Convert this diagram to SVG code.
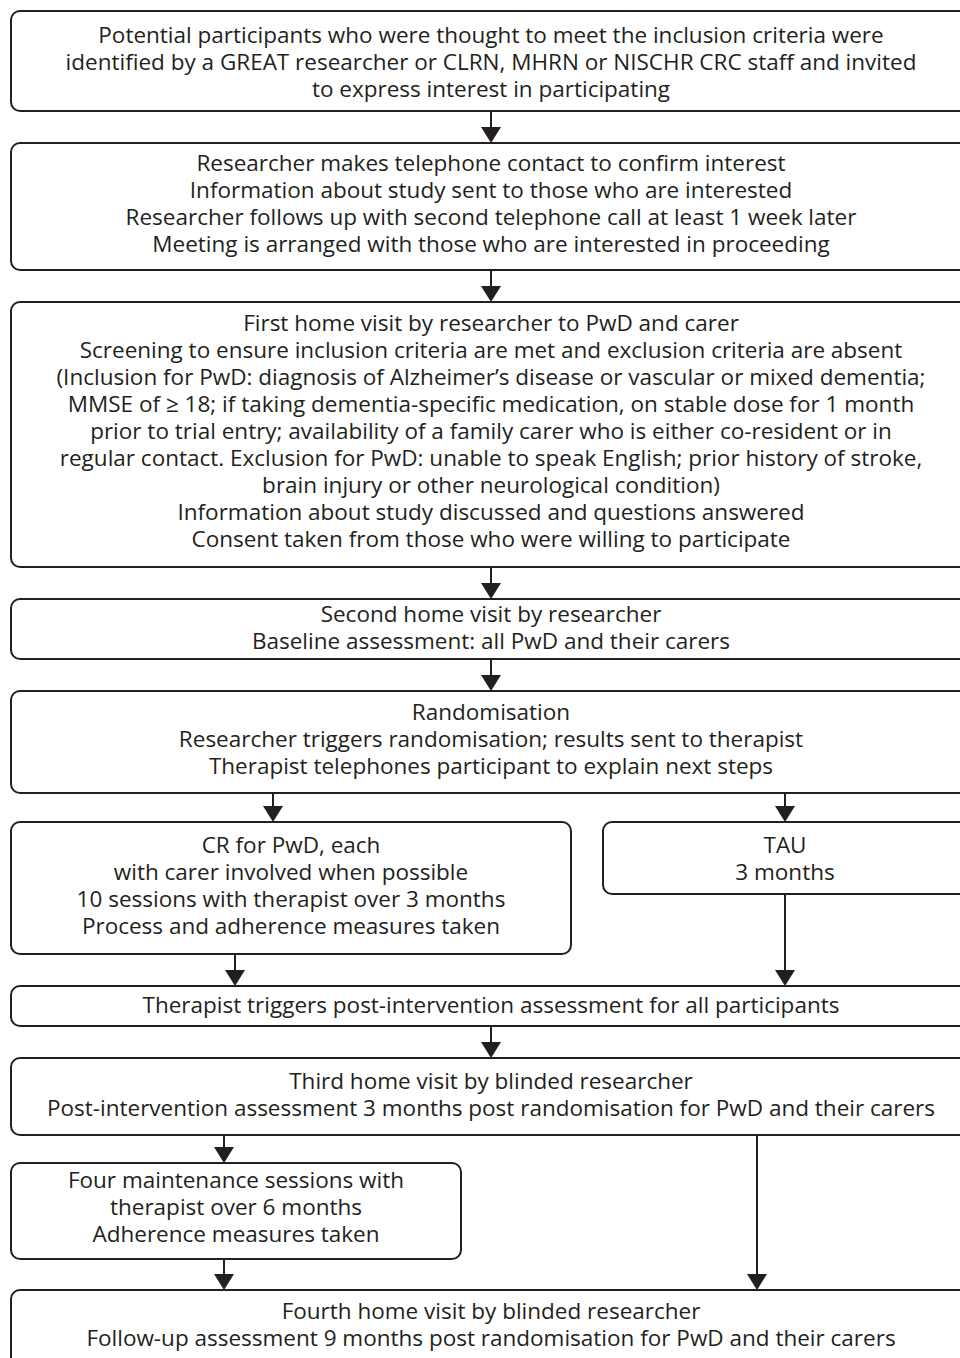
<svg xmlns="http://www.w3.org/2000/svg" width="960" height="1358" viewBox="0 0 960 1358">
<defs>
<style>
.box{fill:#fff;stroke:#231f20;stroke-width:2}
.t{font-family:"Open Sans","Noto Sans",sans-serif;font-size:22.5px;fill:#231f20;text-anchor:middle}
.c{stroke:#231f20;stroke-width:2;fill:none}
.ah{fill:#231f20}
</style>
</defs>
<rect width="960" height="1358" fill="#fff"/>
<g id="connectors">
<line class="c" x1="491" y1="111" x2="491" y2="127"/><path class="ah" d="M481,127 L501,127 L491,143 Z"/>
<line class="c" x1="491" y1="270" x2="491" y2="286"/><path class="ah" d="M481,286 L501,286 L491,302 Z"/>
<line class="c" x1="491" y1="567" x2="491" y2="583"/><path class="ah" d="M481,583 L501,583 L491,599 Z"/>
<line class="c" x1="491" y1="659" x2="491" y2="675"/><path class="ah" d="M481,675 L501,675 L491,691 Z"/>
<line class="c" x1="273" y1="793" x2="273" y2="806"/><path class="ah" d="M263,806 L283,806 L273,822 Z"/>
<line class="c" x1="785" y1="793" x2="785" y2="806"/><path class="ah" d="M775,806 L795,806 L785,822 Z"/>
<line class="c" x1="235" y1="954" x2="235" y2="970"/><path class="ah" d="M225,970 L245,970 L235,986 Z"/>
<line class="c" x1="785" y1="894" x2="785" y2="970"/><path class="ah" d="M775,970 L795,970 L785,986 Z"/>
<line class="c" x1="491" y1="1026" x2="491" y2="1042"/><path class="ah" d="M481,1042 L501,1042 L491,1058 Z"/>
<line class="c" x1="224" y1="1135" x2="224" y2="1147"/><path class="ah" d="M214,1147 L234,1147 L224,1163 Z"/>
<line class="c" x1="224" y1="1259" x2="224" y2="1274"/><path class="ah" d="M214,1274 L234,1274 L224,1290 Z"/>
<line class="c" x1="757" y1="1135" x2="757" y2="1274"/><path class="ah" d="M747,1274 L767,1274 L757,1290 Z"/>
</g>
<g id="n1"><rect class="box" x="11" y="11" width="960" height="100" rx="9"/>
<text class="t" x="491" y="43">Potential participants who were thought to meet the inclusion criteria were</text>
<text class="t" x="491" y="70">identified by a GREAT researcher or CLRN, MHRN or NISCHR CRC staff and invited</text>
<text class="t" x="491" y="97">to express interest in participating</text></g>
<g id="n2"><rect class="box" x="11" y="143" width="960" height="127" rx="9"/>
<text class="t" x="491" y="171">Researcher makes telephone contact to confirm interest</text>
<text class="t" x="491" y="198">Information about study sent to those who are interested</text>
<text class="t" x="491" y="225">Researcher follows up with second telephone call at least 1 week later</text>
<text class="t" x="491" y="252">Meeting is arranged with those who are interested in proceeding</text></g>
<g id="n3"><rect class="box" x="11" y="302" width="960" height="265" rx="9"/>
<text class="t" x="491" y="331">First home visit by researcher to PwD and carer</text>
<text class="t" x="491" y="358">Screening to ensure inclusion criteria are met and exclusion criteria are absent</text>
<text class="t" x="491" y="385">(Inclusion for PwD: diagnosis of Alzheimer’s disease or vascular or mixed dementia;</text>
<text class="t" x="491" y="412">MMSE of ≥ 18; if taking dementia-specific medication, on stable dose for 1 month</text>
<text class="t" x="491" y="439">prior to trial entry; availability of a family carer who is either co-resident or in</text>
<text class="t" x="491" y="466">regular contact. Exclusion for PwD: unable to speak English; prior history of stroke,</text>
<text class="t" x="491" y="493">brain injury or other neurological condition)</text>
<text class="t" x="491" y="520">Information about study discussed and questions answered</text>
<text class="t" x="491" y="547">Consent taken from those who were willing to participate</text></g>
<g id="n4"><rect class="box" x="11" y="599" width="960" height="60" rx="9"/>
<text class="t" x="491" y="622">Second home visit by researcher</text>
<text class="t" x="491" y="649">Baseline assessment: all PwD and their carers</text></g>
<g id="n5"><rect class="box" x="11" y="691" width="960" height="102" rx="9"/>
<text class="t" x="491" y="720">Randomisation</text>
<text class="t" x="491" y="747">Researcher triggers randomisation; results sent to therapist</text>
<text class="t" x="491" y="774">Therapist telephones participant to explain next steps</text></g>
<g id="n6"><rect class="box" x="11" y="822" width="560" height="132" rx="9"/>
<text class="t" x="291" y="853">CR for PwD, each</text>
<text class="t" x="291" y="880">with carer involved when possible</text>
<text class="t" x="291" y="907">10 sessions with therapist over 3 months</text>
<text class="t" x="291" y="934">Process and adherence measures taken</text></g>
<g id="n7"><rect class="box" x="603" y="822" width="368" height="72" rx="9"/>
<text class="t" x="785" y="853">TAU</text>
<text class="t" x="785" y="880">3 months</text></g>
<g id="n8"><rect class="box" x="11" y="986" width="960" height="40" rx="9"/>
<text class="t" x="491" y="1013">Therapist triggers post-intervention assessment for all participants</text></g>
<g id="n9"><rect class="box" x="11" y="1058" width="960" height="77" rx="9"/>
<text class="t" x="491" y="1089">Third home visit by blinded researcher</text>
<text class="t" x="491" y="1116">Post-intervention assessment 3 months post randomisation for PwD and their carers</text></g>
<g id="n10"><rect class="box" x="11" y="1163" width="450" height="96" rx="9"/>
<text class="t" x="236" y="1188">Four maintenance sessions with</text>
<text class="t" x="236" y="1215">therapist over 6 months</text>
<text class="t" x="236" y="1242">Adherence measures taken</text></g>
<g id="n11"><rect class="box" x="11" y="1290" width="960" height="100" rx="9"/>
<text class="t" x="491" y="1319">Fourth home visit by blinded researcher</text>
<text class="t" x="491" y="1346">Follow-up assessment 9 months post randomisation for PwD and their carers</text></g>
</svg>
